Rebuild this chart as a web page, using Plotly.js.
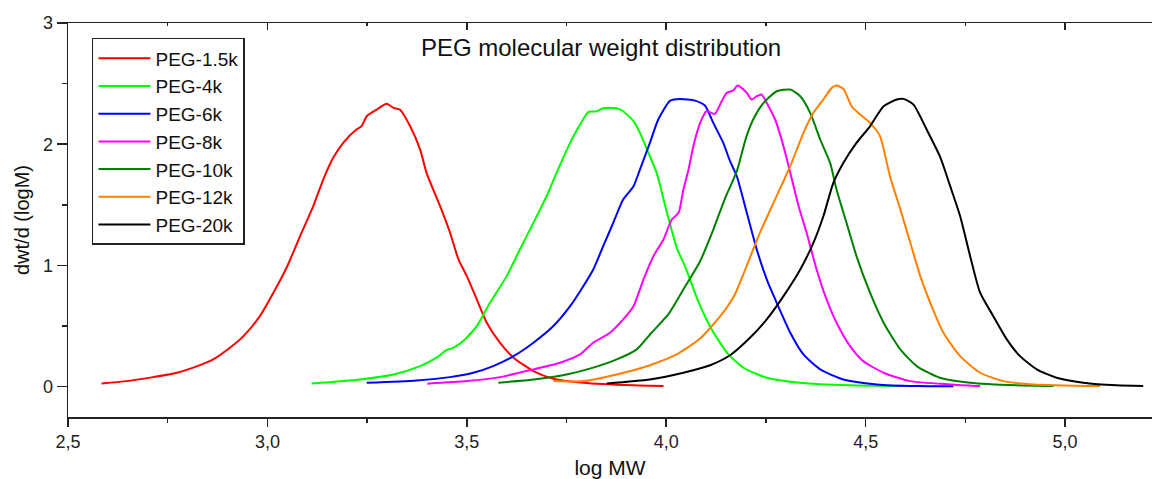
<!DOCTYPE html>
<html>
<head>
<meta charset="utf-8">
<script src="https://cdn.plot.ly/plotly-3.0.1.min.js"></script>
<style>html,body{margin:0;padding:0;background:#fff;}#chart{width:1152px;height:479px;}</style>
</head>
<body>
<div id="chart"></div>
<script>
// PEG-1.5k
const peg15kX = [2.584,2.647,2.714,2.773,2.831,2.864,2.906,2.940,2.981,3.015,3.048,3.082,3.115,3.140,3.165,3.190,3.223,3.236,3.249,3.274,3.299,3.316,3.332,3.358,3.383,3.399,3.433,3.458,3.479,3.500,3.525,3.550,3.583,3.617,3.667,3.717,3.792,3.918,3.993];
const peg15kY = [0.027,0.046,0.079,0.115,0.178,0.225,0.321,0.417,0.582,0.775,0.981,1.242,1.489,1.709,1.888,2.011,2.121,2.148,2.231,2.286,2.333,2.300,2.286,2.148,1.956,1.764,1.489,1.270,1.050,0.912,0.720,0.528,0.363,0.239,0.129,0.066,0.033,0.011,0.005];
// PEG-4k
const peg4kX = [3.111,3.232,3.316,3.383,3.424,3.449,3.466,3.491,3.525,3.558,3.600,3.633,3.667,3.700,3.725,3.759,3.784,3.805,3.826,3.842,3.876,3.892,3.918,3.934,3.959,3.976,4.003,4.028,4.047,4.080,4.114,4.156,4.197,4.252,4.335,4.461,4.590];
const peg4kY = [0.027,0.060,0.101,0.170,0.239,0.302,0.321,0.376,0.500,0.692,0.912,1.132,1.352,1.571,1.764,2.011,2.162,2.267,2.272,2.297,2.297,2.272,2.190,2.094,1.901,1.764,1.420,1.130,0.995,0.705,0.472,0.266,0.150,0.074,0.033,0.011,0.005];
// PEG-6k
const peg6kX = [3.249,3.374,3.458,3.516,3.566,3.617,3.667,3.717,3.759,3.792,3.817,3.842,3.867,3.892,3.918,3.934,3.959,3.980,4.010,4.035,4.072,4.097,4.118,4.143,4.160,4.177,4.202,4.227,4.252,4.277,4.311,4.344,4.386,4.444,4.528,4.628,4.720];
const peg6kY = [0.033,0.052,0.079,0.115,0.170,0.252,0.363,0.500,0.664,0.829,0.967,1.159,1.352,1.544,1.654,1.791,2.011,2.204,2.360,2.374,2.360,2.319,2.176,2.011,1.860,1.736,1.434,1.132,0.885,0.692,0.445,0.266,0.143,0.060,0.019,0.005,0.003];
// PEG-8k
const peg8kX = [3.401,3.500,3.583,3.667,3.734,3.784,3.817,3.859,3.892,3.918,3.943,3.968,3.993,4.014,4.031,4.043,4.056,4.068,4.085,4.101,4.122,4.139,4.152,4.168,4.179,4.202,4.214,4.227,4.239,4.252,4.273,4.294,4.311,4.332,4.352,4.377,4.402,4.427,4.461,4.494,4.545,4.611,4.712,4.787];
const peg8kY = [0.025,0.046,0.079,0.143,0.198,0.266,0.363,0.445,0.555,0.664,0.885,1.077,1.214,1.379,1.434,1.626,1.791,1.984,2.176,2.272,2.250,2.355,2.424,2.443,2.484,2.424,2.369,2.396,2.410,2.341,2.204,1.984,1.764,1.489,1.270,0.967,0.720,0.528,0.335,0.211,0.115,0.046,0.019,0.005];
// PEG-10k
const peg10kX = [3.579,3.667,3.750,3.817,3.876,3.926,3.963,4.005,4.048,4.085,4.118,4.148,4.177,4.200,4.218,4.244,4.277,4.311,4.336,4.361,4.386,4.411,4.427,4.452,4.477,4.511,4.545,4.587,4.628,4.686,4.762,4.879,4.971];
const peg10kY = [0.033,0.060,0.101,0.157,0.225,0.308,0.445,0.596,0.830,1.035,1.296,1.558,1.778,2.052,2.204,2.341,2.437,2.451,2.396,2.259,2.039,1.846,1.626,1.352,1.077,0.775,0.528,0.308,0.170,0.074,0.033,0.011,0.005];
// PEG-12k
const peg12kX = [3.717,3.792,3.876,3.959,4.026,4.085,4.139,4.172,4.208,4.235,4.269,4.311,4.344,4.369,4.394,4.415,4.427,4.444,4.465,4.486,4.511,4.536,4.561,4.587,4.612,4.637,4.662,4.695,4.737,4.787,4.845,4.921,5.088];
const peg12kY = [0.046,0.046,0.101,0.177,0.266,0.397,0.596,0.761,1.049,1.270,1.517,1.819,2.094,2.259,2.369,2.465,2.484,2.457,2.313,2.245,2.176,2.067,1.736,1.462,1.187,0.912,0.692,0.445,0.252,0.115,0.046,0.019,0.005];
// PEG-20k
const peg20kX = [3.851,3.959,4.043,4.110,4.160,4.208,4.252,4.294,4.336,4.369,4.394,4.419,4.444,4.477,4.511,4.545,4.578,4.595,4.620,4.653,4.686,4.712,4.737,4.762,4.787,4.820,4.854,4.887,4.929,4.979,5.046,5.129,5.196];
const peg20kY = [0.027,0.060,0.115,0.177,0.259,0.397,0.555,0.747,0.967,1.187,1.406,1.682,1.846,2.011,2.148,2.313,2.369,2.374,2.327,2.121,1.901,1.654,1.406,1.077,0.775,0.582,0.390,0.252,0.143,0.074,0.033,0.011,0.005];

const seriesNames = ['PEG-1.5k','PEG-4k','PEG-6k','PEG-8k','PEG-10k','PEG-12k','PEG-20k'];
const seriesX = [peg15kX, peg4kX, peg6kX, peg8kX, peg10kX, peg12kX, peg20kX];
const seriesY = [peg15kY, peg4kY, peg6kY, peg8kY, peg10kY, peg12kY, peg20kY];
const seriesColors = ['#ff0000','#00ff00','#0000ff','#ff00ff','#008000','#ff8000','#000000'];

const FONT = 'Arial, "Liberation Sans", sans-serif';
const traces = seriesNames.map((n, i) => ({
  type: 'scatter', mode: 'lines', name: n,
  x: seriesX[i], y: seriesY[i],
  line: {color: seriesColors[i], width: 2, shape: 'spline', smoothing: 0.6}
}));
// helper trace to show the mirrored top axis
traces.push({type:'scatter', mode:'lines', x:[2.5], y:[0], xaxis:'x2', showlegend:false, hoverinfo:'skip', line:{color:'rgba(0,0,0,0)'}});

const layout = {
  width: 1152, height: 479,
  margin: {l: 68, r: 0, t: 23, b: 62},
  paper_bgcolor: '#fff', plot_bgcolor: '#fff',
  separators: ',.',
  font: {family: FONT, color: '#111'},
  title: {text: 'PEG molecular weight distribution', font: {family: FONT, size: 24, color: '#111'},
          x: 0.4917, xref: 'paper', xanchor: 'center', y: 0.9, yref: 'container', yanchor: 'middle'},
  showlegend: true,
  legend: {x: 0.0221, y: 0.962, xanchor: 'left', yanchor: 'top', bgcolor: '#fff',
           bordercolor: '#222', borderwidth: 1.5, font: {family: FONT, size: 19, color: '#111'},
           itemwidth: 52, tracegroupgap: 0},
  xaxis: {range: [2.5, 5.218], tick0: 2.5, dtick: 0.5, tickformat: '.1f',
          showgrid: false, zeroline: false, showline: true, linecolor: '#222', linewidth: 1.5,
          ticks: 'outside', ticklen: 8, tickwidth: 1.5, tickcolor: '#222',
          minor: {ticks: 'outside', dtick: 0.25, tick0: 2.5, ticklen: 4, tickwidth: 1.5, tickcolor: '#222', showgrid: false},
          tickfont: {family: FONT, size: 18, color: '#222'},
          title: {text: 'log MW', font: {family: FONT, size: 21, color: '#111'}, standoff: 10},
          automargin: false},
  xaxis2: {overlaying: 'x', matches: 'x', side: 'top', range: [2.5, 5.218], tick0: 2.5, dtick: 0.5,
           showgrid: false, zeroline: false, showline: true, linecolor: '#222', linewidth: 1.5,
           ticks: 'inside', ticklen: 7, tickwidth: 1.5, tickcolor: '#222', showticklabels: false,
           minor: {ticks: 'inside', dtick: 0.25, tick0: 2.5, ticklen: 3, tickwidth: 1.5, tickcolor: '#222', showgrid: false}},
  yaxis: {range: [-0.25, 3], tick0: 0, dtick: 1, tickformat: 'd',
          showgrid: false, zeroline: false, showline: true, linecolor: '#222', linewidth: 1.5,
          ticks: 'outside', ticklen: 10, tickwidth: 1.5, tickcolor: '#222',
          minor: {ticks: 'outside', dtick: 0.5, tick0: 0, ticklen: 5, tickwidth: 1.5, tickcolor: '#222', showgrid: false},
          tickfont: {family: FONT, size: 18, color: '#222'},
          title: {text: 'dwt/d (logM)', font: {family: FONT, size: 20, color: '#111'}, standoff: 8},
          automargin: false}
};

Plotly.newPlot('chart', traces, layout, {displayModeBar: false, staticPlot: true});
</script>
</body>
</html>
